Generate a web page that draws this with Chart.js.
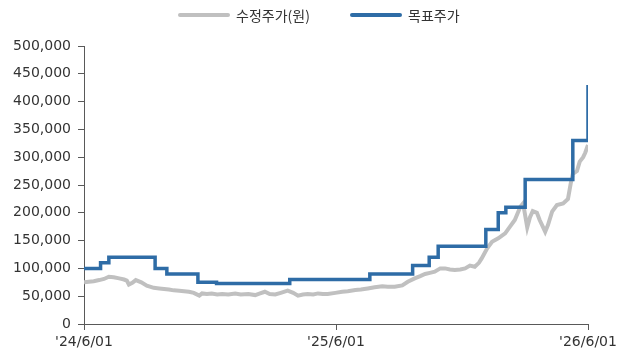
<!DOCTYPE html>
<html>
<head>
<meta charset="utf-8">
<script src="https://cdn.jsdelivr.net/npm/chart.js@4/dist/chart.umd.min.js"></script>
<style>
  html, body { margin: 0; padding: 0; background: #ffffff; }
  #wrap { position: relative; width: 622px; height: 356px; }
  #legend { position: absolute; left: 0; top: 0; width: 622px; height: 30px; font-family: "Noto Sans CJK KR", "DejaVu Sans", sans-serif; font-size: 14px; color: #333333; }
  .item { position: absolute; top: 5px; height: 20px; display: flex; align-items: center; white-space: nowrap; }
  .swatch { display: inline-block; width: 52px; height: 4px; margin-right: 6px; border-radius: 2px; }
</style>
</head>
<body>
<div id="wrap">
  <canvas id="c" width="622" height="356"></canvas>
  <div id="legend"></div>
</div>
<script>
// ---- data (x = days since 2024-06-01) ----
const seriesNames = ['수정주가(원)', '목표주가'];
const xTickLabels = ["'24/6/01", "'25/6/01", "'26/6/01"];
const yTickValues = [0, 50000, 100000, 150000, 200000, 250000, 300000, 350000, 400000, 450000, 500000];

const priceDays = [0, 7, 14, 22, 29, 36, 43, 51, 58, 62, 65, 70, 75, 83, 91, 101, 109, 116, 123, 130,
  138, 145, 152, 159, 167, 171, 178, 185, 193, 200, 209, 219, 227, 238, 248, 255, 262, 269, 277, 285,
  295, 303, 310, 317, 324, 332, 339, 346, 353, 364, 374, 382, 393, 401, 411, 421, 432, 440, 450, 461,
  469, 479, 487, 494, 501, 508, 516, 523, 530, 537, 545, 552, 559, 566, 572, 576, 584, 591, 600, 610,
  617, 624, 632, 636, 642, 646, 650, 656, 660, 668, 672, 678, 685, 694, 701, 705, 708, 714, 718, 723,
  726, 730];
const priceValues = [75000, 76000, 77000, 79000, 81000, 85000, 84000, 82000, 80000, 78000, 71000, 74000, 79000, 75000, 69000, 65000, 64000, 63000, 62000, 60500,
  60000, 59000, 58000, 56000, 51000, 55000, 54000, 55000, 53000, 54000, 53000, 55000, 53000, 54000, 52000, 55000, 58000, 54000, 53000, 56000,
  60000, 56000, 51000, 53000, 54000, 53000, 55000, 54000, 54000, 56000, 58000, 59000, 61000, 62000, 64000, 66000, 68000, 67000, 67000, 69500,
  76000, 82000, 86000, 90000, 92000, 94000, 100000, 100000, 98000, 97000, 98000, 100000, 105000, 103000, 110000, 118000, 136000, 148000, 154000, 163000,
  175000, 187000, 211000, 217000, 174000, 192000, 203000, 200000, 187000, 166000, 178000, 202000, 214000, 217000, 225000, 253000, 270000, 275000, 292000, 300000,
  308000, 322000];

const targetDays = [0, 24, 36, 103, 120, 165, 192, 298, 414, 476, 500, 513, 582, 600, 611, 639, 708, 730];
const targetValues = [100000, 110000, 120000, 100000, 90000, 75000, 73000, 80000, 90000, 105000, 120000, 140000, 170000, 200000, 210000, 260000, 330000, 430000];

// ---- styles ----
const grayColor = '#c0c0c0';
const blueColor = '#2e6ca6';
const axisColor = '#595959';
const textColor = '#333333';

const toPoints = (xs, ys) => xs.map((x, i) => ({ x: x, y: ys[i] }));

Chart.defaults.font.family = '"DejaVu Sans", "Noto Sans CJK KR", sans-serif';
Chart.defaults.font.size = 14;
Chart.defaults.color = textColor;

const chart = new Chart(document.getElementById('c'), {
  type: 'line',
  data: {
    datasets: [
      {
        label: seriesNames[1],
        data: toPoints(targetDays, targetValues),
        borderColor: blueColor,
        backgroundColor: blueColor,
        borderWidth: 3.5,
        stepped: true,
        pointRadius: 0,
        fill: false
      },
      {
        label: seriesNames[0],
        data: toPoints(priceDays, priceValues),
        borderColor: grayColor,
        backgroundColor: grayColor,
        borderWidth: 4,
        tension: 0,
        pointRadius: 0,
        fill: false
      }
    ]
  },
  options: {
    responsive: false,
    animation: false,
    layout: { padding: { left: 0, right: 34, top: 46, bottom: 0 } },
    plugins: { legend: { display: false }, tooltip: { enabled: false } },
    scales: {
      x: {
        type: 'linear',
        min: 0,
        max: 730,
        afterBuildTicks: (s) => { s.ticks = [0, 365, 730].map(v => ({ value: v })); },
        afterFit: (s) => { s.height = 32; },
        ticks: {
          padding: 4,
          maxRotation: 0,
          autoSkip: false,
          color: textColor,
          callback: (v, i) => xTickLabels[i]
        },
        grid: { drawOnChartArea: false, drawTicks: true, tickLength: 6, color: axisColor, lineWidth: 1 },
        border: { display: true, color: axisColor, width: 1 }
      },
      y: {
        min: 0,
        max: 500000,
        afterBuildTicks: (s) => { s.ticks = yTickValues.map(v => ({ value: v })); },
        afterFit: (s) => { s.width = 84; },
        ticks: {
          padding: 7,
          color: textColor,
          callback: (v) => Number(v).toLocaleString('en-US')
        },
        grid: { drawOnChartArea: false, drawTicks: true, tickLength: 6, color: axisColor, lineWidth: 1 },
        border: { display: true, color: axisColor, width: 1 }
      }
    }
  }
});

// ---- HTML legend built from the series names ----
const legend = document.getElementById('legend');
const legendItems = [
  { name: seriesNames[0], color: grayColor, left: 178 },
  { name: seriesNames[1], color: blueColor, left: 350 }
];
legendItems.forEach(it => {
  const d = document.createElement('div');
  d.className = 'item';
  d.style.left = it.left + 'px';
  const sw = document.createElement('span');
  sw.className = 'swatch';
  sw.style.background = it.color;
  const t = document.createElement('span');
  t.textContent = it.name;
  d.appendChild(sw);
  d.appendChild(t);
  legend.appendChild(d);
});
</script>
</body>
</html>
